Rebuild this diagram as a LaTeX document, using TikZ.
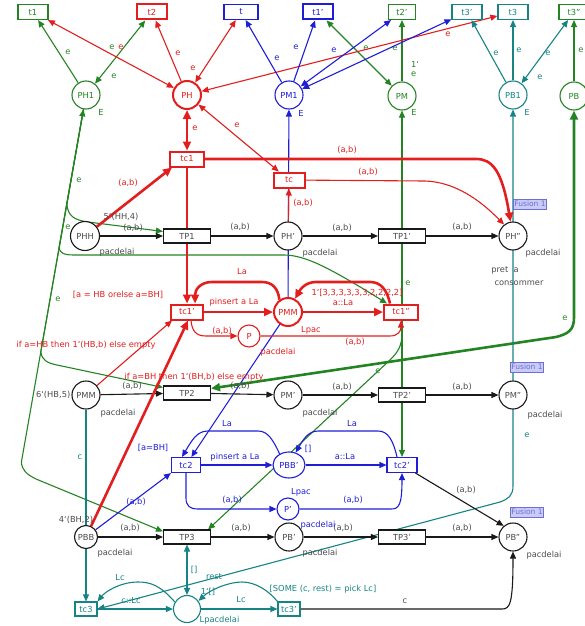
\documentclass[tikz,border=0pt]{standalone}
\usepackage{fontspec}
\setmainfont{DejaVu Sans}
\usetikzlibrary{arrows.meta,backgrounds,shapes.geometric}
\definecolor{cpnred}{RGB}{226,30,30}
\definecolor{cpngreen}{RGB}{36,132,36}
\definecolor{cpnblue}{RGB}{30,30,215}
\definecolor{cpnteal}{RGB}{22,132,132}
\definecolor{cpnblack}{RGB}{25,25,25}
\definecolor{cpngray}{RGB}{75,75,75}
\definecolor{fusfill}{RGB}{200,204,246}
\definecolor{fusline}{RGB}{110,110,215}

\begin{document}
\begin{tikzpicture}[x=1pt,y=-1pt,
  every node/.style={font=\fontsize{8.3}{9.5}\selectfont},
  place/.style={circle,draw=cpnblack,text=cpngray,fill=white,minimum size=28pt,inner sep=0pt,line width=1.1pt},
  smallplace/.style={place,minimum size=22pt},
  trans/.style={rectangle,draw=cpnblack,text=cpngray,fill=white,minimum width=47pt,minimum height=14pt,inner sep=1pt,line width=1.1pt},
  toptrans/.style={trans,minimum width=30pt,minimum height=15pt},
  ctrans/.style={trans,minimum width=31pt,minimum height=15pt},
  boldnode/.style={line width=2pt},
  lbl/.style={inner sep=0.5pt},
  lblg/.style={lbl,text=cpngray},
  arc/.style={line width=1.1pt,>={Triangle[length=7pt,width=6pt]}},
  heavy/.style={line width=2.6pt,>={Triangle[length=9pt,width=8pt]}},
  blk/.style={arc,cpnblack},
  fusion/.style={draw=fusline,fill=fusfill,text=fusline,inner sep=1pt,minimum height=10pt,font=\fontsize{7.5}{8}\selectfont}
]
\path[use as bounding box] (0,0) rectangle (585,626);

% top transitions
\node[toptrans,draw=cpngreen,text=cpngreen] (t1) at (33,12) {t1};
\node[toptrans,boldnode,draw=cpnred,text=cpnred] (t2) at (152,12) {t2};
\node[toptrans,draw=cpnblue,text=cpnblue,minimum width=34pt] (t) at (241,12) {t};
\node[toptrans,boldnode,draw=cpnblue,text=cpnblue] (t1p) at (318,12) {t1'};
\node[toptrans,draw=cpngreen,text=cpngreen,minimum width=27pt] (t2p) at (402,12) {t2'};
\node[toptrans,draw=cpnteal,text=cpnteal] (t3p) at (467,12) {t3'};
\node[toptrans,draw=cpnteal,text=cpnteal] (t3) at (513,12) {t3};
\node[toptrans,draw=cpngreen,text=cpngreen] (t3pp) at (574,12) {t3''};

% top places
\node[place,draw=cpngreen,text=cpngreen] (PH1) at (86,95) {PH1};
\node[place,boldnode,draw=cpnred,text=cpnred] (PH) at (187,95) {PH};
\node[place,draw=cpnblue,text=cpnblue] (PM1) at (289,95) {PM1};
\node[place,draw=cpngreen,text=cpngreen] (PM) at (402,96) {PM};
\node[place,draw=cpnteal,text=cpnteal] (PB1) at (513,95) {PB1};
\node[place,draw=cpngreen,text=cpngreen] (PB) at (574,96) {PB};
\node[lbl,text=cpngreen] (ePH1) at (101,112) {E};
\node[lbl,text=cpnblue] (ePM1) at (301,113) {E};
\node[lbl,text=cpngreen] (ePM) at (414,112) {E};
\node[lbl,text=cpnteal] (ePB1) at (527,112) {E};
\node[lbl,text=cpngreen,align=left] (mPM) at (415,69) {1`\\e};

% row 1
\node[ctrans,boldnode,draw=cpnred,text=cpnred,minimum width=34pt] (tc1) at (187,159) {tc1};
\node[ctrans,boldnode,draw=cpnred,text=cpnred] (tc) at (289,180) {tc};
\node[place,minimum size=29pt] (PHH) at (85,236) {PHH};
\node[trans] (TP1) at (187,236) {TP1};
\node[place] (PHa) at (288,236) {PH'};
\node[trans] (TP1p) at (402,236) {TP1'};
\node[place] (PHb) at (513,236) {PH''};
\node[fusion] (fus1) at (530,204) {Fusion 1};
\node[lblg] (mPHH) at (121,217) {5`(HH,4)};
\node[lblg] (cPHH) at (117,252) {pacdelai};
\node[lblg] (cPHa) at (320,253) {pacdelai};
\node[lblg] (cPHb) at (543,253) {pacdelai};
\node[lblg] (pret) at (505,270) {pret\ \ a};
\node[lblg] (cons) at (519,283) {consommer};

% row 2
\node[ctrans,boldnode,draw=cpnred,text=cpnred,minimum width=32pt] (tc1a) at (187,312) {tc1'};
\node[place,boldnode,draw=cpnred,text=cpnred] (PMMr) at (288,312) {PMM};
\node[smallplace,draw=cpnred,text=cpnred] (P) at (249,336) {P};
\node[ctrans,boldnode,draw=cpnred,text=cpnred,minimum width=34pt] (tc1b) at (401,312) {tc1''};
\node[lbl,text=cpnred] (gtc1a) at (118,295) {[a = HB orelse a=BH]};
\node[lbl,text=cpnred] (mPMMr) at (357,293) {1`[3,3,3,3,3,3,2,2,2,2]};
\node[lbl,text=cpnred] (cPMMr) at (311,330) {Lpac};
\node[lbl,text=cpnred] (cP) at (278,352) {pacdelai};

% row 3
\node[place] (PMMb) at (86,395) {PMM};
\node[trans] (TP2) at (187,393) {TP2};
\node[place] (PMa) at (288,395) {PM'};
\node[trans] (TP2p) at (402,395) {TP2'};
\node[place] (PMb) at (513,395) {PM''};
\node[fusion] (fus2) at (527,367) {Fusion 1};
\node[lblg,anchor=east] (mPMMb) at (71,395) {6`(HB,5)};
\node[lblg] (cPMMb) at (118,413) {pacdelai};
\node[lblg] (cPMa) at (320,413) {pacdelai};
\node[lblg] (cPMb) at (545,415) {pacdelai};

% row 4
\node[ctrans,draw=cpnblue,text=cpnblue,minimum width=29pt] (tc2) at (186,465) {tc2};
\node[ellipse,draw=cpnblue,text=cpnblue,fill=white,line width=1.1pt,minimum width=32pt,minimum height=26pt,inner sep=0pt] (PBBp) at (289,465) {PBB'};
\node[smallplace,draw=cpnblue,text=cpnblue] (Pp) at (288,509) {P'};
\node[ctrans,draw=cpnblue,text=cpnblue,minimum width=30pt] (tc2p) at (402,465) {tc2'};
\node[lbl,text=cpnblue] (gtc2) at (153,448) {[a=BH]};
\node[lbl,text=cpnblue] (mPBBp) at (308,449) {[]};
\node[lbl,text=cpnblue] (cPBBp) at (301,492) {Lpac};
\node[lbl,text=cpnblue] (cPp) at (318,525) {pacdelai};

% row 5
\node[smallplace,minimum size=23pt] (PBB) at (86,537) {PBB};
\node[trans] (TP3) at (187,537) {TP3};
\node[place] (PBa) at (289,537) {PB'};
\node[trans] (TP3p) at (402,537) {TP3'};
\node[place] (PBb) at (513,537) {PB''};
\node[fusion] (fus3) at (527,512) {Fusion 1};
\node[lblg] (mPBB) at (76,520) {4`(BH,2)};
\node[lblg] (cPBB) at (115,553) {pacdelai};
\node[lblg] (cPBa) at (320,553) {pacdelai};
\node[lblg] (cPBb) at (544,555) {pacdelai};

% row 6
\node[ctrans,draw=cpnteal,text=cpnteal,minimum width=22pt,minimum height=14pt] (tc3) at (86,609) {tc3};
\node[place,draw=cpnteal,minimum size=27pt] (L) at (187,609) {};
\node[ctrans,draw=cpnteal,text=cpnteal,minimum width=22pt,minimum height=14pt] (tc3p) at (289,609) {tc3'};
\node[lbl,text=cpnteal] (mL) at (208,592) {1`[]};
\node[lbl,text=cpnteal,anchor=west] (cL) at (199,620) {Lpacdelai};
\node[lbl,text=cpnteal] (gtc3p) at (323,589) {[SOME (c, rest) = pick Lc]};
\coordinate (pmsplit) at (402,333);

\begin{scope}[on background layer]
\draw[arc,cpngreen,->] (PH1) -- (t1) node[lbl] at (68,52) {e};
\draw[arc,cpngreen,<->] (PH1) -- (t2) node[lbl] at (112,47) {e} node[lbl] at (114,76) {e};
\draw[arc,cpngreen,<->] (PM) -- (t1p) node[lbl] at (366,48) {e};
\draw[arc,cpngreen,->] (PM) -- (t2p) node[lbl] at (395,48) {e};
\draw[arc,cpngreen,->] (PB) -- (t3pp) node[lbl] at (581,50) {e};
\draw[arc,cpnred,<->] (PH) -- (t1) node[lbl] at (121,47) {e};
\draw[arc,cpnred,->] (PH) -- (t2) node[lbl] at (178,53) {e};
\draw[arc,cpnred,<->] (PH) -- (t) node[lbl] at (193,68) {e};
\draw[arc,cpnred,<->] (PH) -- (t3) node[lbl] at (448,34) {e};
\draw[arc,cpnblue,->] (PM1) -- (t) node[lbl] at (277,58) {e};
\draw[arc,cpnblue,->] (PM1) -- (t1p) node[lbl] at (296,47) {e};
\draw[arc,cpnblue,<->] (PM1) -- (t2p) node[lbl] at (334,50) {e};
\draw[arc,cpnblue,<->] (PM1) -- (t3p);
\draw[arc,cpnteal,->] (PB1) -- (t3p) node[lbl] at (496,53) {e};
\draw[arc,cpnteal,->] (PB1) -- (t3) node[lbl] at (519,50) {e};
\draw[arc,cpnteal,<->] (PB1) -- (t3pp) node[lbl] at (548,53) {e} node[lbl] at (540,77) {e};

\draw[heavy,cpnred,<->] (PH) -- (tc1) node[lbl] at (195,128) {e};
\draw[arc,cpnred,<->] (PH) -- (tc) node[lbl] at (237,125) {e};
\draw[arc,cpnblue,<->] (PM1) -- (288,312) -- (tc2);
\draw[arc,cpngreen,<->] (PM) -- (tc2p) node[lbl] at (408,283) {e};
\draw[arc,cpngreen,->] (pmsplit) .. controls (402,346) and (398,352) .. (390,360) -- ([xshift=-3pt]TP3.north east) node[lbl] at (378,371) {e};
\draw[heavy,cpngreen,<->] (PB) -- (574,318) .. controls (574,330) and (568,334) .. (556,337) -- ([yshift=-3pt]TP2.north east) node[lbl] at (565,318) {e};
\draw[arc,cpnteal,<->] (PB1) -- (513,486) .. controls (513,496) and (508,499) .. (500,502) -- (tc3.east) node[lbl] at (527,435) {e};

\draw[arc,cpngreen,->] (PH1) -- (66.8,204) .. controls (68,216) and (74,220) .. (88,222) -- ([yshift=-3pt]TP1.north west) node[lbl] at (79,180) {e};
\draw[arc,cpngreen,->] (PH1) -- (59,248) .. controls (60,253) and (64,255) .. (74,255) -- (284,255) .. controls (305,255) and (330,268) .. ([xshift=4pt]tc1b.north west) node[lbl] at (68,227) {e};
\draw[arc,cpngreen,->] (PH1) -- (40.8,352) .. controls (42,360) and (47,363) .. (57,365) -- ([yshift=-2pt]TP2.north west) node[lbl] at (58,299) {e};
\draw[arc,cpngreen,<->] (PH1) -- (21.4,462) .. controls (22,470) and (26,474) .. (36,479) -- ([yshift=-2pt]TP3.north west);

\draw[blk,->] (PHH) -- (TP1) node[lblg] at (133,228) {(a,b)};
\draw[blk,->] (TP1) -- (PHa) node[lblg] at (240,227) {(a,b)};
\draw[blk,->] (PHa) -- (TP1p) node[lblg] at (342,228) {(a,b)};
\draw[blk,->] (TP1p) -- (PHb) node[lblg] at (462,227) {(a,b)};
\draw[blk,->] (PMMb) -- (TP2) node[lblg] at (132,386) {(a,b)};
\draw[blk,->] (TP2) -- (PMa) node[lblg] at (240,386) {(a,b)};
\draw[blk,->] (PMa) -- (TP2p) node[lblg] at (342,387) {(a,b)};
\draw[blk,->] (TP2p) -- (PMb) node[lblg] at (462,387) {(a,b)};
\draw[blk,->] (PBB) -- (TP3) node[lblg] at (130,528) {(a,b)};
\draw[blk,->] (TP3) -- (PBa) node[lblg] at (241,528) {(a,b)};
\draw[blk,->] (PBa) -- (TP3p) node[lblg] at (343,528) {(a,b)};
\draw[blk,->] (TP3p) -- (PBb) node[lblg] at (462,528) {(a,b)};
\draw[blk,->] (tc2p) -- (PBb.130) node[lblg] at (466,490) {(a,b)};
\draw[blk,->] (tc3p) -- (502,609) .. controls (510,609) and (513,604) .. (PBb) node[lblg] at (405,601) {c};

\draw[heavy,cpnred,->] (PHH) -- ([xshift=3pt]tc1.south west) node[lbl] at (128,183) {(a,b)};
\draw[heavy,cpnred,->] (tc1) -- (476,159) .. controls (492,159) and (502,170) .. (PHb.100) node[lbl] at (347,150) {(a,b)};
\draw[arc,cpnred,->] (tc) -- (425,181) .. controls (455,182) and (480,200) .. (PHb.128) node[lbl] at (368,172) {(a,b)};
\draw[arc,cpnred,->] (PHa) -- (tc) node[lbl] at (303,203) {(a,b)};
\draw[heavy,cpnred,->] (tc1) -- (tc1a);
\draw[heavy,cpnred,->] (tc1a) -- (PMMr) node[lbl] at (234,302) {pinsert a La};
\draw[heavy,cpnred,->] (PMMr.125) .. controls (278,288) and (272,282) .. (262,282) -- (212,282) .. controls (200,282) and (195,290) .. ([xshift=-9pt]tc1a.north east) node[lbl] at (242,272) {La};
\draw[heavy,cpnred,->] (PMMr) -- (tc1b) node[lbl] at (343,303) {a::La};
\draw[heavy,cpnred,->] ([xshift=7pt]tc1b.north west) .. controls (387,290) and (381,282) .. (370,282) -- (316,282) .. controls (305,282) and (300,290) .. (PMMr.62);
\draw[arc,cpnred,->] ([xshift=4pt]tc1a.south) .. controls (192,331) and (196,336) .. (206,336) -- (P) node[lbl] at (222,331) {(a,b)};
\draw[arc,cpnred,->] (P) -- (390,336) .. controls (398,336) and (401,331) .. (tc1b) node[lbl] at (355,342) {(a,b)};
\draw[heavy,cpnred,->] (PBB) -- ([xshift=1pt]tc1a.south) node[lbl] at (194,377) {if a=BH then 1`(BH,b) else empty};
\draw[arc,cpnred,->] (PMMb) -- ([xshift=2pt]tc1a.south west) node[lbl] at (86,345) {if a=HB then 1`(HB,b) else empty};

\draw[arc,cpnblue,->] (tc2) -- (PBBp) node[lbl] at (235,457) {pinsert a La};
\draw[arc,cpnblue,->] (PBBp.130) .. controls (273,440) and (268,431) .. (258,431) -- (208,431) .. controls (197,431) and (192,440) .. ([xshift=-4pt]tc2.north) node[lbl] at (227,424) {La};
\draw[arc,cpnblue,->] (PBBp) -- (tc2p) node[lbl] at (345,457) {a::La};
\draw[arc,cpnblue,->] ([xshift=-5pt]tc2p.north) .. controls (393,440) and (388,431) .. (378,431) -- (318,431) .. controls (308,431) and (303,440) .. (PBBp.62) node[lbl] at (352,424) {La};
\draw[arc,cpnblue,->] (tc2) -- (186,498) .. controls (186,506) and (190,509) .. (198,509) -- (Pp) node[lbl] at (232,500) {(a,b)};
\draw[arc,cpnblue,->] (Pp) -- (391,509) .. controls (399,509) and (402,505) .. (tc2p) node[lbl] at (353,500) {(a,b)};
\draw[arc,cpnblue,->] (PBB) -- (tc2.south west) node[lbl] at (136,502) {(a,b)};

\draw[arc,cpnteal,->] (PMMb) -- (tc3) node[lbl] at (80,457) {c};
\draw[arc,cpnteal,->] (tc3) -- (L) node[lbl] at (131,601) {c::Lc};
\draw[arc,cpnteal,->] (L.150) .. controls (160,585) and (150,582) .. (138,582) .. controls (120,582) and (105,592) .. (tc3.north east) node[lbl] at (120,578) {Lc};
\draw[arc,cpnteal,->] (L) -- (tc3p) node[lbl] at (241,600) {Lc};
\draw[arc,cpnteal,->] (tc3p.north west) .. controls (268,590) and (255,582) .. (242,582) .. controls (228,582) and (210,590) .. (L.35) node[lbl] at (214,577) {rest};
\draw[arc,cpnteal,<->] (TP3) -- (L) node[lbl] at (194,570) {[]};
\end{scope}
\end{tikzpicture}
\end{document}
